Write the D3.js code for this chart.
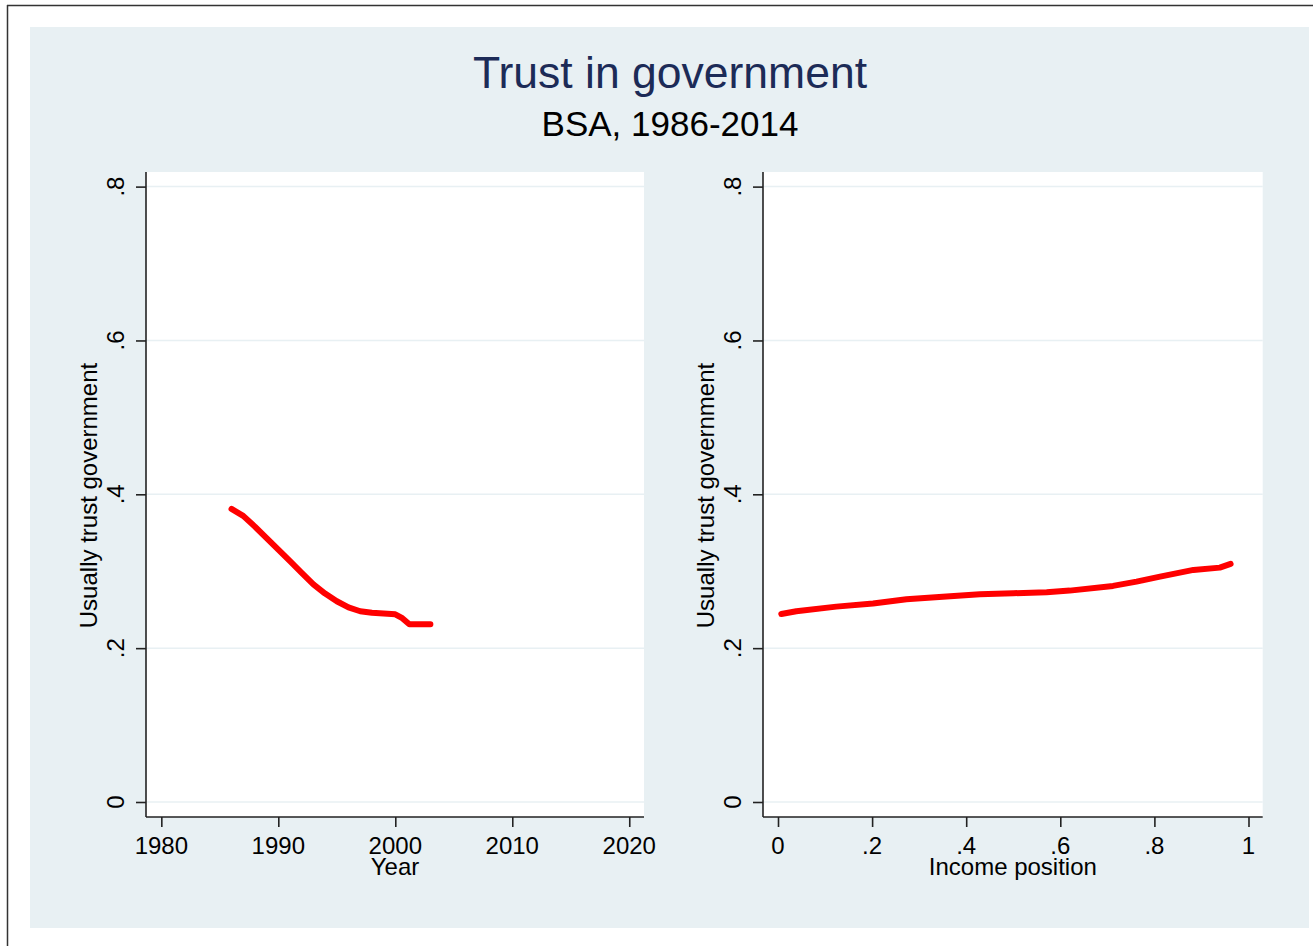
<!DOCTYPE html>
<html>
<head>
<meta charset="utf-8">
<script src="https://cdn.jsdelivr.net/npm/d3@7"></script>
<style>
  html, body { margin: 0; padding: 0; background: #ffffff; }
  svg { display: block; font-family: "Liberation Sans", Arial, sans-serif; }
</style>
</head>
<body>
<svg id="chart" width="1313" height="946"></svg>
<script>
// Trust over time (lowess-smoothed share who usually trust government)
const years = [1986, 1987, 1988, 1989, 1990, 1991, 1992, 1993, 1994, 1995,
               1996, 1997, 1998, 1999, 2000, 2000.6, 2001.2, 2002, 2003];
const trustByYear = [0.381, 0.372, 0.358, 0.343, 0.328, 0.313, 0.298, 0.283, 0.271, 0.261,
                     0.253, 0.248, 0.246, 0.245, 0.244, 0.239, 0.231, 0.231, 0.231];

// Trust by income position
const incomePos = [0.007, 0.039, 0.124, 0.202, 0.273, 0.358, 0.429, 0.50, 0.571, 0.62,
                   0.712, 0.762, 0.812, 0.883, 0.939, 0.962];
const trustByIncome = [0.2445, 0.248, 0.254, 0.258, 0.2636, 0.267, 0.270, 0.2714, 0.2727, 0.2748,
                       0.2809, 0.2865, 0.293, 0.3017, 0.3047, 0.3095];

// Axis ticks
const yTicks = [0, 0.2, 0.4, 0.6, 0.8];
const yearTicks = [1980, 1990, 2000, 2010, 2020];
const incomeTicks = [0, 0.2, 0.4, 0.6, 0.8, 1];

const titleText = "Trust in government";
const subtitleText = "BSA, 1986-2014";
const yTitle = "Usually trust government";
const xTitles = ["Year", "Income position"];

const svg = d3.select("#chart");

// outer frame edges
svg.append("line").attr("x1", 7.5).attr("x2", 7.5).attr("y1", 5).attr("y2", 946)
  .attr("stroke", "#333").attr("stroke-width", 1.5);
svg.append("line").attr("x1", 7).attr("x2", 1313).attr("y1", 5.5).attr("y2", 5.5)
  .attr("stroke", "#333").attr("stroke-width", 1.5);

// graph region background
svg.append("rect").attr("x", 30).attr("y", 27).attr("width", 1279).attr("height", 901)
  .attr("fill", "#e8f0f3");

svg.append("text").attr("x", 670).attr("y", 88).attr("text-anchor", "middle")
  .attr("font-size", 44.5).attr("fill", "#1c2b57").text(titleText);
svg.append("text").attr("x", 670).attr("y", 136).attr("text-anchor", "middle")
  .attr("font-size", 35).attr("fill", "#000").text(subtitleText);

const fmt = v => v === 0 ? "0" : (v === 1 ? "1" : d3.format(".1f")(v).replace(/^0/, ""));

function panel(opts) {
  const { left, right, top, bottom, xDomain, xTicks, xFmt, xs, ys, xTitle } = opts;
  const g = svg.append("g");
  const x = d3.scaleLinear().domain(xDomain).range([left, right]);
  const y = d3.scaleLinear().domain([-0.0195, 0.819]).range([bottom, top]);

  g.append("rect").attr("x", left).attr("y", top)
    .attr("width", right - left).attr("height", bottom - top).attr("fill", "#ffffff");

  // horizontal grid lines
  g.selectAll(".grid").data(yTicks).join("line")
    .attr("x1", left).attr("x2", right)
    .attr("y1", d => y(d)).attr("y2", d => y(d))
    .attr("stroke", "#e8f0f3").attr("stroke-width", 1.5);

  // y axis
  const yAxis = g.append("g").attr("transform", `translate(${left},0)`)
    .call(d3.axisLeft(y).tickValues(yTicks).tickSize(10).tickFormat(""));
  yAxis.select(".domain").attr("d", `M0,${top}V${bottom}`);
  yAxis.selectAll("path, line").attr("stroke", "#222").attr("stroke-width", 1.6);

  g.selectAll(".ylab").data(yTicks).join("text")
    .attr("transform", d => `translate(${left - 22.5},${y(d)}) rotate(-90)`)
    .attr("text-anchor", "middle").attr("font-size", 24).attr("fill", "#000")
    .text(fmt);

  g.append("text")
    .attr("transform", `translate(${left - 49},${(top + bottom) / 2 + 1}) rotate(-90)`)
    .attr("text-anchor", "middle").attr("font-size", 24).attr("fill", "#000")
    .text(yTitle);

  // x axis
  const xAxis = g.append("g").attr("transform", `translate(0,${bottom})`)
    .call(d3.axisBottom(x).tickValues(xTicks).tickSize(10).tickFormat(""));
  xAxis.select(".domain").attr("d", `M${left},0H${right}`);
  xAxis.selectAll("path, line").attr("stroke", "#222").attr("stroke-width", 1.6);

  g.selectAll(".xlab").data(xTicks).join("text")
    .attr("x", d => x(d)).attr("y", bottom + 37)
    .attr("text-anchor", "middle").attr("font-size", 24).attr("fill", "#000")
    .text(xFmt);

  g.append("text").attr("x", (left + right) / 2).attr("y", bottom + 58)
    .attr("text-anchor", "middle").attr("font-size", 24).attr("fill", "#000")
    .text(xTitle);

  const line = d3.line().x((d, i) => x(xs[i])).y((d, i) => y(ys[i]));
  g.append("path").attr("d", line(ys))
    .attr("fill", "none").attr("stroke", "#ff0000").attr("stroke-width", 6)
    .attr("stroke-linecap", "round").attr("stroke-linejoin", "round");
}

panel({
  left: 146, right: 644, top: 172, bottom: 817,
  xDomain: [1978.69, 2021.26], xTicks: yearTicks, xFmt: d => String(d),
  xs: years, ys: trustByYear, xTitle: xTitles[0]
});

panel({
  left: 763, right: 1262.7, top: 172, bottom: 817,
  xDomain: [-0.0319, 1.0302], xTicks: incomeTicks, xFmt: fmt,
  xs: incomePos, ys: trustByIncome, xTitle: xTitles[1]
});
</script>
</body>
</html>
